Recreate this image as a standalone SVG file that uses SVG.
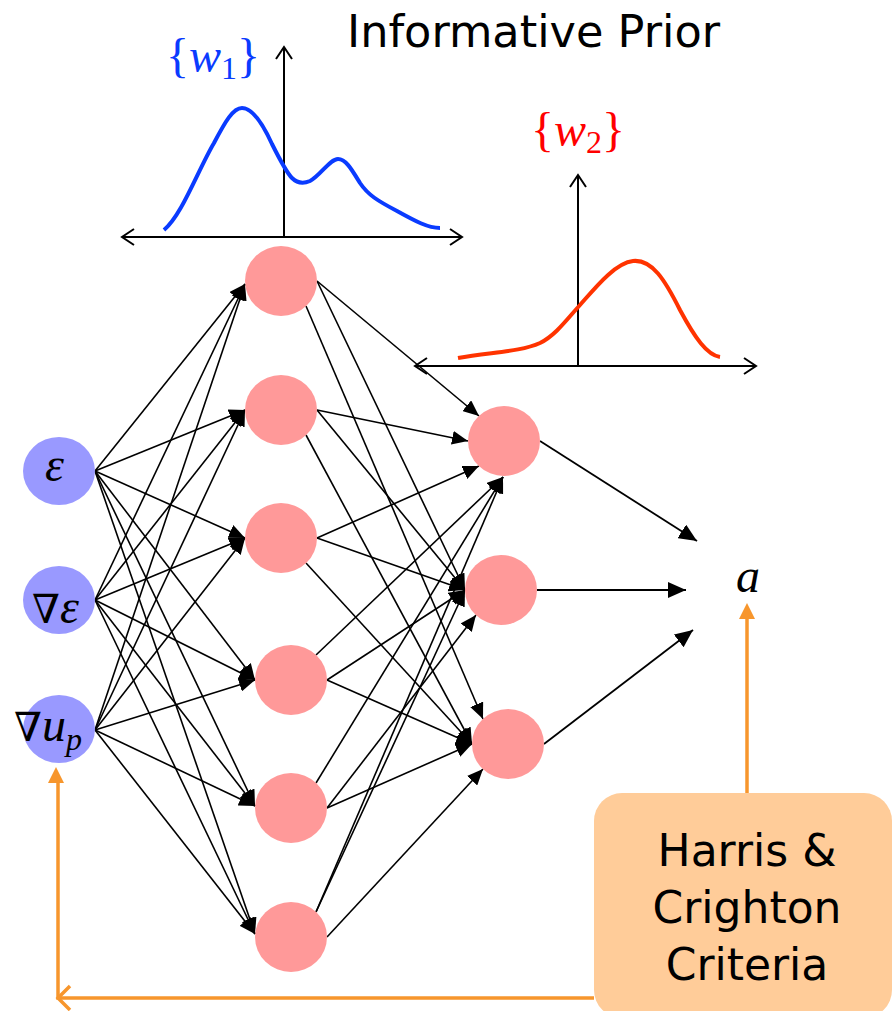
<svg xmlns="http://www.w3.org/2000/svg" width="892" height="1011" viewBox="0 0 892 1011">
<defs>
<style>
.in{fill:#9999FF}
.hd{fill:#FF9999}
.c{stroke:#000;stroke-width:1.6;fill:none;marker-end:url(#ah)}
.o{stroke:#000;stroke-width:1.8;fill:none;marker-end:url(#ah2)}
.ax{stroke:#000;stroke-width:2;fill:none}
.math{font-family:"Liberation Serif","DejaVu Serif",serif;font-size:48px}
.it{font-style:italic}
.sans{font-family:"DejaVu Sans","Liberation Sans",sans-serif}
.or{stroke:#F7962D;stroke-width:3.5;fill:none}
</style>
<marker id="ah" markerUnits="userSpaceOnUse" markerWidth="16" markerHeight="14" refX="16" refY="7" orient="auto"><path d="M0,0 L16,7 L0,14 z" fill="#000"/></marker>
<marker id="ah2" markerUnits="userSpaceOnUse" markerWidth="18" markerHeight="16" refX="18" refY="8" orient="auto"><path d="M0,0 L18,8 L0,16 z" fill="#000"/></marker>
</defs>
<rect width="892" height="1011" fill="#fff"/>

<g id="title"><text x="347" y="47" class="sans" font-size="44" textLength="373" lengthAdjust="spacingAndGlyphs" fill="#000">Informative Prior</text></g>

<g id="prior1">
<path class="ax" d="M122,237 H462 M134,229 L122,237 L134,245 M450,229 L462,237 L450,245 M284,237 V47 M276,59 L284,47 L292,59"/>
<path d="M164,230 C182,215 198,170 214,143 C225,122 233,108 242,108 C252,108 262,122 272,144 C280,160 286,172 292,178 C297,183 303,184 310,181 C320,176 330,159 338,159 C346,159 352,170 360,183 C368,195 378,201 397,211 C415,221 428,228 440,228" fill="none" stroke="#0A3BFF" stroke-width="4"/>
<text x="166" y="72" class="math" fill="#0A3BFF">{<tspan class="it">w</tspan><tspan font-size="32" dy="7">1</tspan><tspan dy="-7">}</tspan></text>
</g>

<g id="prior2">
<path class="ax" d="M415,366 H756 M427,358 L415,366 L427,374 M744,358 L756,366 L744,374 M578,366 V175 M570,187 L578,175 L586,187"/>
<path d="M458,358 C490,352 520,352 540,343 C556,335 568,318 580,305 C595,288 615,263 633,261 C652,259 665,280 680,310 C695,338 707,355 720,357" fill="none" stroke="#FF3300" stroke-width="4"/>
<text x="531" y="146" class="math" fill="#FF0000">{<tspan class="it">w</tspan><tspan font-size="32" dy="7">2</tspan><tspan dy="-7">}</tspan></text>
</g>

<g id="connectors">
<path class="c" d="M95,471 L245,284"/>
<path class="c" d="M95,471 L245,410"/>
<path class="c" d="M95,471 L245,538"/>
<path class="c" d="M95,471 L255,680"/>
<path class="c" d="M95,471 L255,806"/>
<path class="c" d="M95,471 L255,934"/>
<path class="c" d="M95,600 L245,284"/>
<path class="c" d="M95,600 L245,410"/>
<path class="c" d="M95,600 L245,538"/>
<path class="c" d="M95,600 L255,680"/>
<path class="c" d="M95,600 L255,806"/>
<path class="c" d="M95,600 L255,934"/>
<path class="c" d="M95,730 L245,284"/>
<path class="c" d="M95,730 L245,410"/>
<path class="c" d="M95,730 L245,538"/>
<path class="c" d="M95,730 L255,680"/>
<path class="c" d="M95,730 L255,806"/>
<path class="c" d="M95,730 L255,934"/>
<path class="c" d="M317,281 L479,416"/>
<path class="c" d="M317,281 L465,590"/>
<path class="c" d="M306,306 L483,719"/>
<path class="c" d="M317,410 L468,441"/>
<path class="c" d="M317,410 L465,590"/>
<path class="c" d="M306,435 L472,744"/>
<path class="c" d="M317,538 L479,466"/>
<path class="c" d="M317,538 L465,590"/>
<path class="c" d="M306,563 L472,744"/>
<path class="c" d="M316,655 L503,477"/>
<path class="c" d="M327,680 L465,590"/>
<path class="c" d="M327,680 L472,744"/>
<path class="c" d="M316,783 L503,477"/>
<path class="c" d="M327,808 L476,615"/>
<path class="c" d="M327,808 L472,744"/>
<path class="c" d="M316,912 L503,477"/>
<path class="c" d="M316,912 L465,590"/>
<path class="c" d="M327,937 L483,769"/>
<path class="o" d="M540,441 L697,541"/>
<path class="o" d="M537,590 L686,590"/>
<path class="o" d="M544,744 L693,630"/>
<path class="or" d="M747,793 V618"/>
<path d="M747,603 L739,619 L755,619 z" fill="#F7962D"/>
<path class="or" d="M594,998 H58 V782"/>
<path d="M56,767 L48,783 L64,783 z" fill="#F7962D"/>
<path class="or" d="M70,986 L58,998 L70,1010"/>
</g>

<g id="in1"><ellipse class="in" cx="59" cy="471" rx="36" ry="34"/><text x="45" y="481" class="math it" fill="#000">ε</text></g>
<g id="in2"><ellipse class="in" cx="59" cy="600" rx="36" ry="34"/><text x="32" y="623" class="math" fill="#000"><tspan font-family="DejaVu Serif" font-size="40">∇</tspan><tspan class="it">ε</tspan></text></g>
<g id="in3"><ellipse class="in" cx="59" cy="729" rx="36" ry="34"/><text x="14" y="741" class="math" fill="#000"><tspan font-family="DejaVu Serif" font-size="40">∇</tspan><tspan class="it">u</tspan><tspan class="it" font-size="32" dy="9">p</tspan></text></g>

<g id="h1"><ellipse class="hd" cx="281" cy="281" rx="36" ry="35"/></g>
<g id="h2"><ellipse class="hd" cx="281" cy="410" rx="36" ry="35"/></g>
<g id="h3"><ellipse class="hd" cx="281" cy="538" rx="36" ry="35"/></g>
<g id="h4"><ellipse class="hd" cx="291" cy="680" rx="36" ry="35"/></g>
<g id="h5"><ellipse class="hd" cx="291" cy="808" rx="36" ry="35"/></g>
<g id="h6"><ellipse class="hd" cx="291" cy="937" rx="36" ry="35"/></g>

<g id="o1"><ellipse class="hd" cx="504" cy="441" rx="36" ry="35"/></g>
<g id="o2"><ellipse class="hd" cx="501" cy="590" rx="36" ry="35"/></g>
<g id="o3"><ellipse class="hd" cx="508" cy="744" rx="36" ry="35"/></g>

<g id="out"><text x="736" y="592" class="math it" font-size="50" fill="#000">a</text></g>

<g id="criteria">
<rect x="594" y="793" width="298" height="225" rx="28" fill="#FFCC99"/>
<text class="sans" font-size="44" text-anchor="middle" fill="#000"><tspan x="747" y="866">Harris &amp;</tspan><tspan x="747" y="923">Crighton</tspan><tspan x="747" y="980">Criteria</tspan></text>
</g>
</svg>
